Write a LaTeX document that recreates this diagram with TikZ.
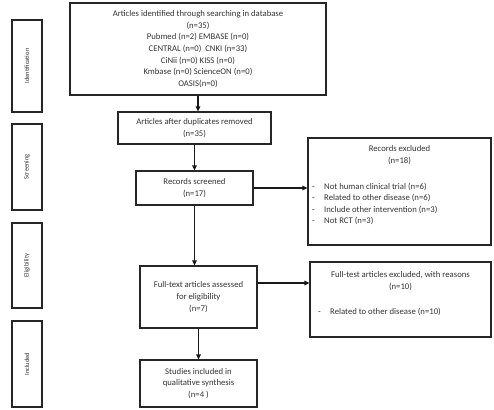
\documentclass[tikz,border=0pt]{standalone}
\usepackage{fontspec}
\setmainfont{Carlito}
\usetikzlibrary{arrows.meta}
\begin{document}
\begin{tikzpicture}[x=1pt,y=-1pt,
  box/.style={draw=black!85, line width=1.2pt, rectangle, inner sep=0pt},
  side/.style={draw=black!85, line width=1.2pt, rectangle, inner sep=0pt, minimum width=30pt},
  txt/.style={font=\fontsize{8.7}{11.6}\selectfont, align=center, inner sep=0pt, text=black!80},
  lbl/.style={font=\fontsize{6.5}{7}\selectfont, rotate=90, inner sep=0pt, text=black!80},
  arr/.style={draw=black!90, line width=1.2pt, -{Triangle[length=5pt,width=4.5pt]}}]
\useasboundingbox (0,0) rectangle (494,409);
% side boxes
\node[side, minimum height=92pt] (sid) at (27,66) {};
\node[side, minimum height=86pt] (sscr) at (27,167) {};
\node[side, minimum height=85pt] (sel) at (27,265.5) {};
\node[side, minimum height=86pt] (sinc) at (27,364) {};
\node[lbl] (lid) at (sid) {Identification};
\node[lbl] (lscr) at (sscr) {Screening};
\node[lbl] (lel) at (sel) {Eligibility};
\node[lbl] (linc) at (sinc) {Included};
% main boxes
\node[box, minimum width=256pt, minimum height=92pt] (idb) at (198,49) {};
\node[txt] (idt) at (idb) {Articles identified through searching in database\\(n=35)\\Pubmed (n=2) EMBASE (n=0)\\CENTRAL (n=0)\ \ CNKI (n=33)\\CiNii (n=0) KISS (n=0)\\Kmbase (n=0) ScienceON (n=0)\\OASIS(n=0)};
\node[box, minimum width=153pt, minimum height=32pt] (dup) at (194.5,128) {};
\node[txt] (dupt) at (dup) {Articles after duplicates removed\\(n=35)};
\node[box, minimum width=117pt, minimum height=34pt] (scr) at (194.5,188) {};
\node[txt] (scrt) at (scr) {Records screened\\(n=17)};
\node[box, minimum width=117pt, minimum height=62pt] (ft) at (198.5,297) {};
\node[txt] (ftt) at (ft) {Full-text articles assessed\\for eligibility\\(n=7)};
\node[box, minimum width=117pt, minimum height=47pt] (st) at (198.5,383.5) {};
\node[txt] (stt) at (st) {Studies included in\\qualitative synthesis\\(n=4 )};
% exclusion boxes
\node[box, minimum width=183pt, minimum height=107pt] (rex) at (399.5,191.5) {};
\node[txt, anchor=north] (rext) at ([yshift=-8pt]rex.north) {Records excluded\\(n=18)};
\node[txt, anchor=north west, align=left] (rexl) at (312,182.5) {\makebox[12pt][l]{-}Not human clinical trial (n=6)\\\makebox[12pt][l]{-}Related to other disease (n=6)\\\makebox[12pt][l]{-}Include other intervention (n=3)\\\makebox[12pt][l]{-}Not RCT (n=3)};
\node[box, minimum width=181pt, minimum height=75pt] (fex) at (400.5,299.5) {};
\node[txt, anchor=north] (fext) at ([yshift=-10pt]fex.north) {Full-test articles excluded, with reasons\\(n=10)};
\node[txt, anchor=north west, align=left] (fexl) at (318,307.5) {\makebox[12pt][l]{-}Related to other disease (n=10)};
% arrows
\draw[arr] (idb.south) -- (idb.south |- dup.north);
\draw[arr] (dup.south) -- (scr.north);
\draw[arr] (scr.south) -- (scr.south |- ft.north);
\draw[arr] (ft.south) -- (st.north);
\draw[arr] (scr.east) -- (scr.east -| rex.west);
\draw[arr] ([yshift=14pt]ft.east) -- ([yshift=14pt]ft.east -| fex.west);
\end{tikzpicture}
\end{document}
